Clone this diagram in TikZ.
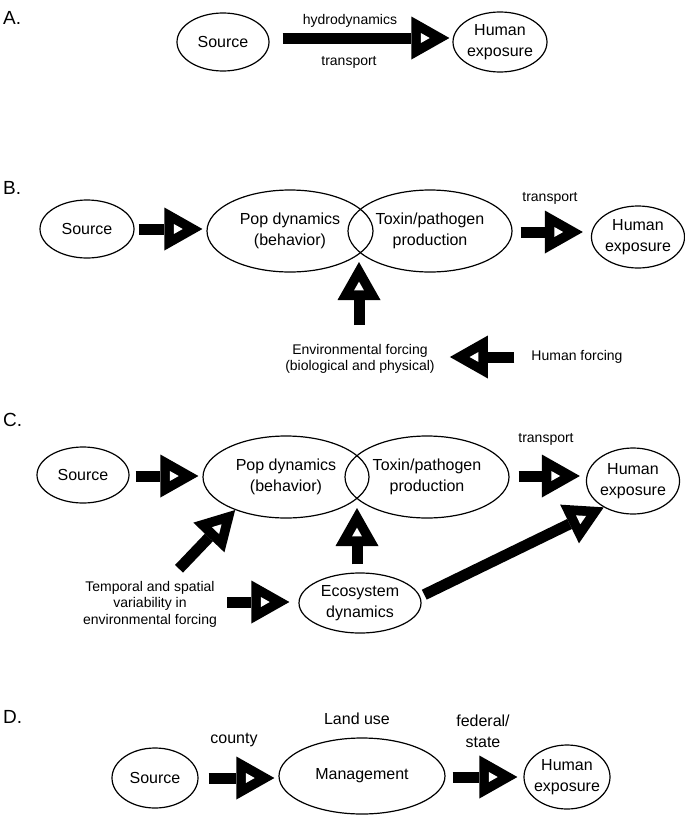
\documentclass[tikz,border=0pt]{standalone}
\usepackage{fontspec}
\setmainfont{Liberation Sans}
\usetikzlibrary{calc,shapes.geometric}

\newcommand{\nodefont}{\fontsize{16}{21}\selectfont}
\newcommand{\notefont}{\fontsize{14}{16.5}\selectfont}
\newcommand{\panelfont}{\fontsize{19}{23}\selectfont}

% fat arrow: shaft plus black head with a small white hole
\newcommand{\fatarrow}[2]{%
  \coordinate (fa-t) at (#1);
  \coordinate (fa-h) at (#2);
  \coordinate (fa-b) at ($(fa-h)!38pt!(fa-t)$);
  \coordinate (fa-l) at ($(fa-b)!21.5pt!90:(fa-h)$);
  \coordinate (fa-r) at ($(fa-b)!21.5pt!-90:(fa-h)$);
  \coordinate (fa-c) at ($(fa-b)!12.4pt!(fa-h)$);
  \draw[line width=11pt] (fa-t) -- (fa-b);
  \fill (fa-h) -- (fa-l) -- (fa-r) -- cycle;
  \fill[white] ($(fa-c)!.23!(fa-h)$) -- ($(fa-c)!.23!(fa-l)$) -- ($(fa-c)!.23!(fa-r)$) -- cycle;
}

\tikzset{
  blob/.style={ellipse, draw, line width=1.2pt, inner sep=0pt, align=center, font=\nodefont},
  note/.style={inner sep=0pt, align=center, font=\notefont},
  tag/.style={inner sep=0pt, align=center, font=\nodefont},
  panel/.style={inner sep=0pt, anchor=west, font=\panelfont}
}

\begin{document}
\begin{tikzpicture}[x=1pt, y=-1pt]
  \useasboundingbox (0,0) rectangle (685,817);

  % A.
  \node[panel] (labA) at (3,18) {A.};
  \node[blob, minimum width=92, minimum height=58] (srcA) at (223,42) {Source};
  \node[blob, minimum width=94, minimum height=60] (humA) at (500,42) {Human\\exposure};
  \node[note] (hydA) at (350,21) {hydrodynamics};
  \node[note] (trnA) at (349,62) {transport};
  \fatarrow{$(srcA.east)+(13,-4)$}{$(humA.west)+(-3,-4)$}

  % B.
  \node[panel] (labB) at (3,188) {B.};
  \node[blob, minimum width=94, minimum height=58] (srcB) at (87,229) {Source};
  \node[blob, minimum width=166, minimum height=82] (popB) at (290,231) {Pop dynamics\\(behavior)};
  \node[blob, minimum width=164, minimum height=82] (toxB) at (430,231) {Toxin/pathogen\\production};
  \node[blob, minimum width=90, minimum height=62] (humB) at (638,237) {Human\\exposure};
  \node[note] (trnB) at (550,198) {transport};
  \node[note] (envB) at (360,359) {Environmental forcing\\(biological and physical)};
  \node[note] (hfoB) at (577,357) {Human forcing};
  \coordinate (meetB) at (359,262);
  \fatarrow{$(srcB.east)+(4,0)$}{$(srcB.east -| popB.west)+(-4,0)$}
  \fatarrow{$(toxB.east)+(8,1)$}{$(toxB.east -| humB.west)+(-8,1)$}
  \fatarrow{$(envB.north -| meetB)+(0,-19)$}{meetB}
  \fatarrow{$(hfoB.west)+(-17,0)$}{$(hfoB.west -| envB.east)+(15,0)$}

  % C.
  \node[panel] (labC) at (3,420) {C.};
  \node[blob, minimum width=92, minimum height=56] (srcC) at (83,475) {Source};
  \node[blob, minimum width=166, minimum height=82] (popC) at (286,477) {Pop dynamics\\(behavior)};
  \node[blob, minimum width=164, minimum height=82] (toxC) at (427,477) {Toxin/pathogen\\production};
  \node[blob, minimum width=92, minimum height=66] (humC) at (633,481) {Human\\exposure};
  \node[note] (trnC) at (546,439) {transport};
  \node[blob, minimum width=122, minimum height=60] (ecoC) at (360,603) {Ecosystem\\dynamics};
  \node[note] (tmpC) at (150,604) {Temporal and spatial\\variability in\\environmental forcing};
  \coordinate (meetC) at (357,508);
  \fatarrow{$(srcC.east)+(6,1)$}{$(srcC.east -| popC.west)+(-4,1)$}
  \fatarrow{$(toxC.east)+(9,-1)$}{$(toxC.east -| humC.west)+(-6,-1)$}
  \fatarrow{$(tmpC.north)+(29,-12)$}{popC.213}
  \fatarrow{$(ecoC.north -| meetC)+(0,-8)$}{meetC}
  \fatarrow{$(tmpC.east)+(10,-2)$}{$(tmpC.east -| ecoC.west)+(-9,-2)$}
  \fatarrow{$(ecoC.8)+(5,0)$}{humC.222}

  % D.
  \node[panel] (labD) at (3,717) {D.};
  \node[blob, minimum width=86, minimum height=60] (srcD) at (155,778) {Source};
  \node[blob, minimum width=166, minimum height=76] (mgtD) at (362,776) {Management};
  \node[blob, minimum width=86, minimum height=64, inner xsep=-3pt] (humD) at (567,777) {Human\\exposure};
  \node[tag] (cntD) at (234,740) {county};
  \node[tag] (lndD) at (357,719) {Land use};
  \node[tag] (fedD) at (483,731) {federal/\\state};
  \fatarrow{$(srcD.east)+(10,0)$}{$(srcD.east -| mgtD.west)+(-4,0)$}
  \fatarrow{$(mgtD.east)+(7,1)$}{$(mgtD.east -| humD.west)+(-6,1)$}
\end{tikzpicture}
\end{document}
